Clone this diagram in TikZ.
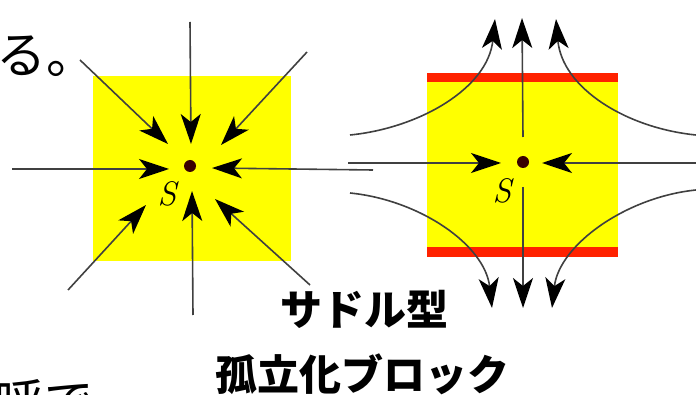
\documentclass[tikz,border=0pt]{standalone}
\usepackage{fontspec}
\newfontfamily\jp{Noto Sans CJK JP}
\usetikzlibrary{arrows.meta}
\definecolor{boxyellow}{HTML}{FFFF00}
\definecolor{barred}{HTML}{FF2200}
\definecolor{dotbrown}{HTML}{3A0000}
\definecolor{linegray}{HTML}{404040}
\tikzset{
  arr/.style={draw=linegray, line width=1.6pt, -{Stealth[length=30pt 0 0,width=20pt 0 0,inset=8pt 0,color=black]}},
  jptext/.style={inner sep=0pt, font=\jp\fontsize{50}{54}\selectfont},
  jpbold/.style={inner sep=0pt, font=\jp\bfseries\fontsize{42}{46}\selectfont},
  lbl/.style={inner sep=0pt, font=\fontsize{34}{36}\selectfont\itshape},
  fixpt/.style={circle, fill=dotbrown, inner sep=0pt, minimum size=12pt}
}
\begin{document}
\begin{tikzpicture}[x=1pt,y=-1pt]
\useasboundingbox (0,0) rectangle (696,395);
% ---- left: sink ----
\fill[boxyellow] (93,76) rectangle (291,261);
% ---- right: saddle ----
\fill[boxyellow] (427,82) rectangle (618,247);
\fill[barred] (427,73) rectangle (618,82);
\fill[barred] (427,247) rectangle (618,257);

% left arrows
\coordinate (la1) at (190,22);  \coordinate (lt1) at (191,144);
\coordinate (la2) at (80,60);   \coordinate (lt2) at (168,144);
\coordinate (la3) at (307,52);  \coordinate (lt3) at (221,145);
\coordinate (la4) at (12,169);  \coordinate (lt4) at (169,169);
\coordinate (la5) at (373,170); \coordinate (lt5) at (212,168);
\coordinate (la6) at (68,290);  \coordinate (lt6) at (146,205);
\coordinate (la7) at (193,315); \coordinate (lt7) at (192,191);
\coordinate (la8) at (310,285); \coordinate (lt8) at (215,199);
\foreach \i in {1,...,8} { \draw[arr] (la\i) -- (lt\i); }
\node[fixpt] (sinkpt) at (190,166) {};
\node[lbl] (sinklbl) at (167,194) {S};

% right arrows
\coordinate (ru0) at (523,137); \coordinate (rut) at (522,18);
\coordinate (rd0) at (523,187); \coordinate (rdt) at (523,308);
\coordinate (rl0) at (348,163); \coordinate (rlt) at (501,163);
\coordinate (rr0) at (696,163); \coordinate (rrt) at (542,163);
\coordinate (c10) at (350,135); \coordinate (c1t) at (495,19);
\coordinate (c20) at (696,135); \coordinate (c2t) at (556,19);
\coordinate (c30) at (350,193); \coordinate (c3t) at (492,308);
\coordinate (c40) at (696,190); \coordinate (c4t) at (552,308);
\draw[arr] (ru0) -- (rut);
\draw[arr] (rd0) -- (rdt);
\draw[arr] (rl0) -- (rlt);
\draw[arr] (rr0) -- (rrt);
\draw[arr] (c10) .. controls (420,128) and (488,88) .. (c1t);
\draw[arr] (c20) .. controls (626,128) and (562,88) .. (c2t);
\draw[arr] (c30) .. controls (420,200) and (485,245) .. (c3t);
\draw[arr] (c40) .. controls (626,197) and (559,245) .. (c4t);
\node[fixpt] (saddlept) at (523,162) {};
\node[lbl] (saddlelbl) at (502,191) {S};

% texts
\node[jptext, anchor=base west] (t1) at (-4,74) {る。};
\node[jptext, anchor=base west] (t2) at (-6,420) {呼で};
\node[jpbold, anchor=base] (t3) at (364,325) {サドル型};
\node[jpbold, anchor=base] (t4) at (362,390) {孤立化ブロック};
\end{tikzpicture}
\end{document}
